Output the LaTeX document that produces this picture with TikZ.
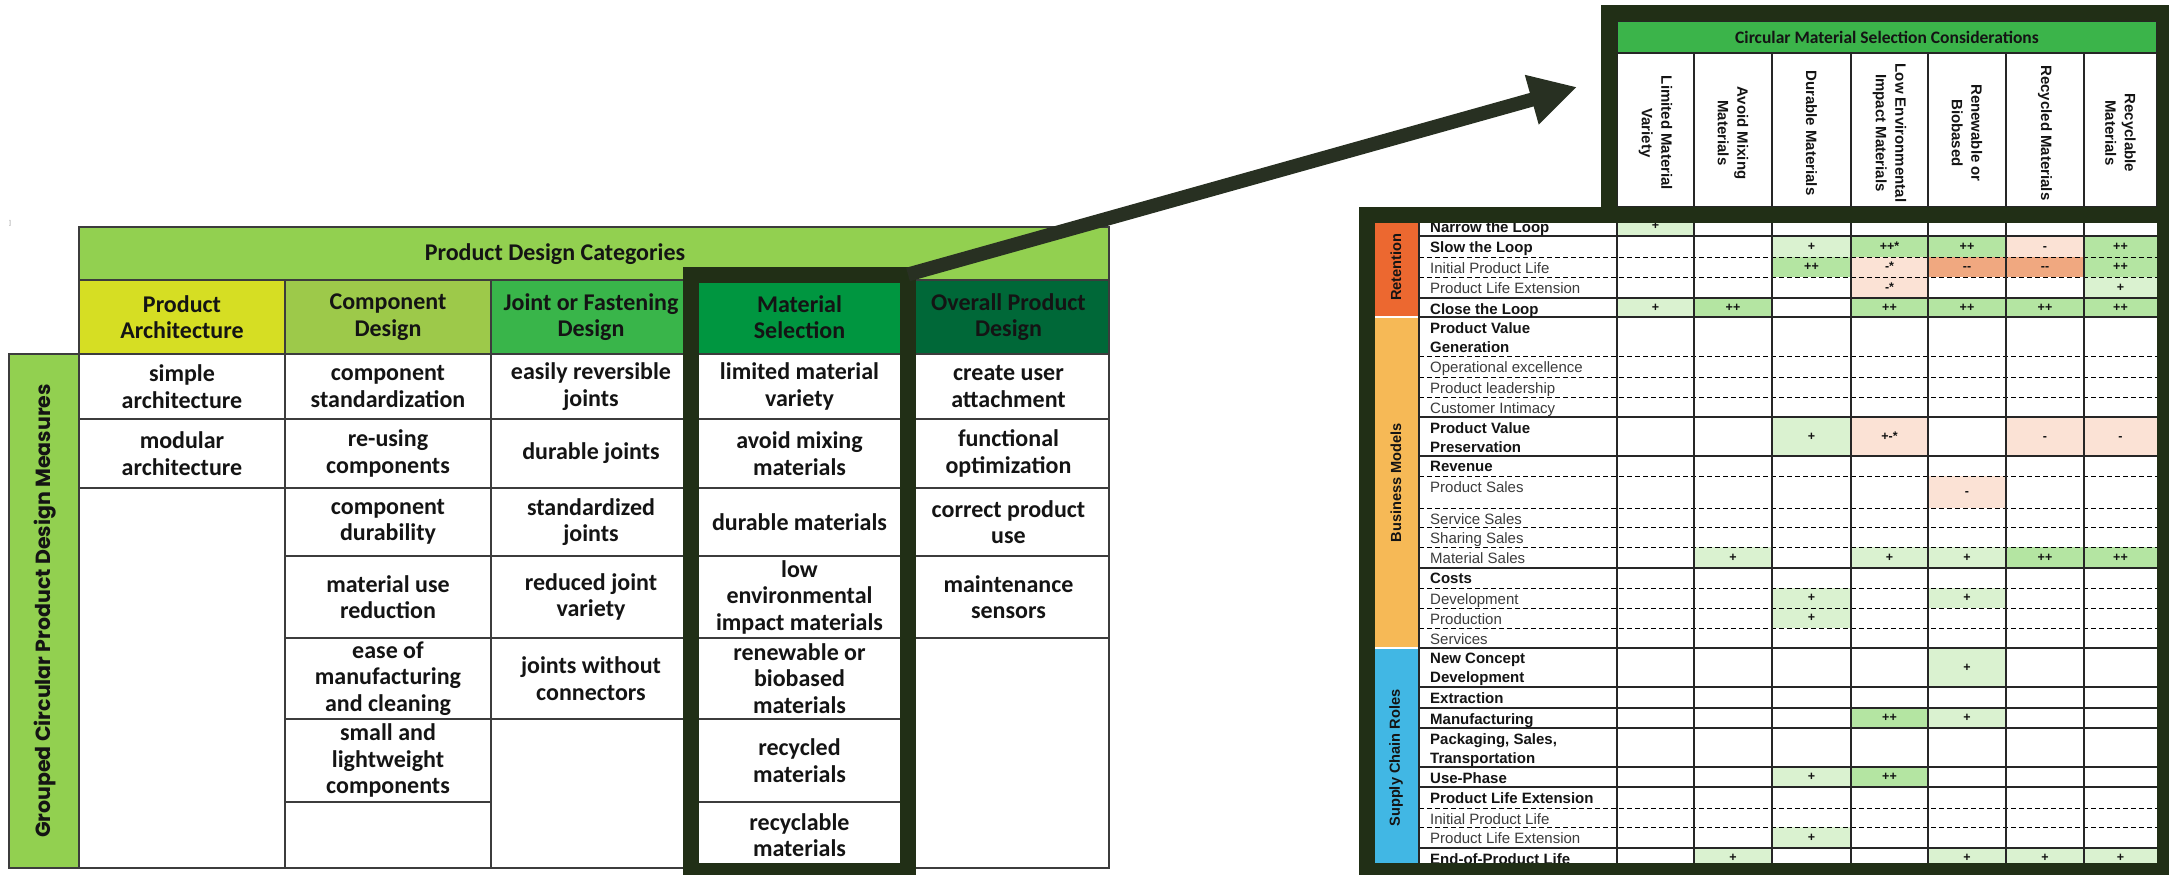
\documentclass[tikz,border=0pt]{standalone}
\usepackage{fontspec}
\setmainfont{Carlito}
\newfontfamily\arialf{Liberation Sans}
\newfontfamily\popf{Poppins}
\usetikzlibrary{arrows.meta}
\definecolor{frm}{RGB}{33,47,22}
\definecolor{arrc}{RGB}{40,48,34}
\definecolor{hdrG}{RGB}{146,208,80}
\definecolor{paY}{RGB}{214,222,35}
\definecolor{cdG}{RGB}{157,201,74}
\definecolor{jfG}{RGB}{57,181,74}
\definecolor{msG}{RGB}{0,150,64}
\definecolor{opG}{RGB}{0,104,56}
\definecolor{cmsG}{RGB}{59,180,74}
\definecolor{retO}{RGB}{236,104,48}
\definecolor{bmO}{RGB}{246,185,86}
\definecolor{scB}{RGB}{65,183,228}
\definecolor{lg}{RGB}{218,242,208}
\definecolor{mg}{RGB}{180,229,162}
\definecolor{ls}{RGB}{251,226,213}
\definecolor{so}{RGB}{240,168,128}
\definecolor{gridc}{RGB}{60,60,60}
\definecolor{txtc}{RGB}{20,20,20}
\definecolor{labgray}{RGB}{60,60,60}
\newcommand\cellv[7]{\node[valc,fill=#6,minimum width={#3-#2},minimum height={#5-#4}] (#1) at ({(#2+#3)/2},{(#4+#5)/2}) {#7};}
\begin{document}
\begin{tikzpicture}[x=1pt,y=-1pt,
  lgrid/.style={draw=gridc,line width=1.4pt},
  lt/.style={font=\fontsize{24}{26.5}\selectfont\bfseries,align=center,inner sep=0pt,text=txtc},
  colh/.style={font=\arialf\bfseries\fontsize{15}{19.5}\selectfont,align=center,rotate=-90,inner sep=0pt,text=txtc},
  catl/.style={font=\arialf\bfseries\fontsize{14.6}{18}\selectfont,rotate=90,inner sep=0pt,text=txtc},
  rlb/.style={font=\arialf\bfseries\fontsize{15}{19}\selectfont,anchor=north west,align=left,inner sep=0pt,text=txtc},
  rlr/.style={font=\arialf\fontsize{15}{19}\selectfont,anchor=north west,align=left,inner sep=0pt,text=labgray},
  valc/.style={font=\arialf\bfseries\fontsize{12.5}{14}\selectfont,inner sep=0pt,outer sep=0pt,text height=9pt,text depth=2pt,text=txtc},
  rsolid/.style={draw=black!85,line width=1.3pt},
  rdash/.style={draw=black,line width=1pt,dash pattern=on 5pt off 3pt},
  frame/.style={draw=frm,line width=16pt,inner sep=0pt,outer sep=0pt},
  bigarrow/.style={draw=arrc,line width=14pt,-{Triangle[length=47pt,width=48pt]}}
]
\useasboundingbox (0,0) rectangle (2169,875);
\node[font=\fontsize{7}{8}\selectfont,text=black!45,inner sep=0pt] (mark) at (10,223) {]};

% ---------------- left table ----------------
\fill[hdrG] (79,227) rectangle (1109,280);
\fill[paY] (79,280) rectangle (285,354);
\fill[cdG] (285,280) rectangle (491,354);
\fill[jfG] (491,280) rectangle (691,354);
\fill[msG] (691,280) rectangle (908,354);
\fill[opG] (908,280) rectangle (1109,354);
\fill[hdrG] (9,354) rectangle (79,868);
\draw[lgrid] (79,227) rectangle (1109,868);
\draw[lgrid] (9,354) rectangle (79,868);
\draw[lgrid] (79,280) -- (1109,280);
\draw[lgrid] (79,354) -- (1109,354);
\foreach \x in {285,491,691,908} \draw[lgrid] (\x,280) -- (\x,868);
\foreach \y in {419,488} \draw[lgrid] (79,\y) -- (285,\y);
\foreach \y in {419,488,556,638,719,802} \draw[lgrid] (285,\y) -- (491,\y);
\foreach \y in {419,488,556,638,719} \draw[lgrid] (491,\y) -- (691,\y);
\foreach \y in {419,488,556,638,719,802} \draw[lgrid] (691,\y) -- (908,\y);
\foreach \y in {419,488,556,638} \draw[lgrid] (908,\y) -- (1109,\y);

\node[lt] (pdc) at (555,254) {Product Design Categories};
\node[lt] (hpa) at (182,317) {Product\\Architecture};
\node[lt] (hcd) at (388,317) {Component\\Design};
\node[lt] (hjf) at (591,317) {Joint or Fastening\\Design};
\node[lt] (hms) at (799.5,317) {Material\\Selection};
\node[lt] (hop) at (1008.5,317) {Overall Product\\Design};

\node[font=\popf\bfseries\fontsize{20.5}{24}\selectfont,rotate=90,inner sep=0pt,text=txtc] (gcl) at (45,611) {Grouped Circular Product Design Measures};

\node[lt] (a1) at (182,386.5) {simple\\architecture};
\node[lt] (a2) at (182,453.5) {modular\\architecture};

\node[lt] (b1) at (388,386.5) {component\\standardization};
\node[lt] (b2) at (388,453.5) {re-using\\components};
\node[lt] (b3) at (388,522) {component\\durability};
\node[lt] (b4) at (388,597) {material use\\reduction};
\node[lt] (b5) at (388,678.5) {ease of\\manufacturing\\and cleaning};
\node[lt] (b6) at (388,760.5) {small and\\lightweight\\components};

\node[lt] (c1) at (591,386.5) {easily reversible\\joints};
\node[lt] (c2) at (591,453.5) {durable joints};
\node[lt] (c3) at (591,522) {standardized\\joints};
\node[lt] (c4) at (591,597) {reduced joint\\variety};
\node[lt] (c5) at (591,678.5) {joints without\\connectors};

\node[lt] (d1) at (799.5,386.5) {limited material\\variety};
\node[lt] (d2) at (799.5,453.5) {avoid mixing\\materials};
\node[lt] (d3) at (799.5,522) {durable materials};
\node[lt] (d4) at (799.5,597) {low\\environmental\\impact materials};
\node[lt] (d5) at (799.5,678.5) {renewable or\\biobased\\materials};
\node[lt] (d6) at (799.5,760.5) {recycled\\materials};
\node[lt] (d7) at (799.5,835) {recyclable\\materials};

\node[lt] (e1) at (1008.5,386.5) {create user\\attachment};
\node[lt] (e2) at (1008.5,453.5) {functional\\optimization};
\node[lt] (e3) at (1008.5,522) {correct product\\use};
\node[lt] (e4) at (1008.5,597) {maintenance\\sensors};

\node[frame,minimum width=217pt,minimum height=596.5pt] (matframe) at (799.5,572.75) {};

% ---------------- right table ----------------
\fill[white] (1375,216) rectangle (2157,868);
\fill[cmsG] (1617,21) rectangle (2157,53);
\fill[white] (1617,53) rectangle (2157,207);
\fill[retO] (1375,214) rectangle (1419,316.3);
\fill[bmO] (1375,317.7) rectangle (1419,647.3);
\fill[scB] (1375,648.7) rectangle (1419,868);

\node[font=\bfseries\fontsize{17.5}{20}\selectfont,inner sep=0pt,text=txtc] (cms) at (1887,37) {Circular Material Selection Considerations};
\node[colh] (h1) at (1655.5,133) {Limited Material\\Variety};
\node[colh] (h2) at (1733,133) {Avoid Mixing\\Materials};
\node[colh] (h3) at (1811.5,133) {Durable Materials};
\node[colh] (h4) at (1889.5,133) {Low Environmental\\Impact Materials};
\node[colh] (h5) at (1967,133) {Renewable or\\Biobased};
\node[colh] (h6) at (2045,133) {Recycled Materials};
\node[colh] (h7) at (2120.5,133) {Recyclable\\Materials};
\draw[rsolid] (1617,21) rectangle (2157,207);
\draw[rsolid] (1617,53) -- (2157,53);
\foreach \x in {1694,1772,1851,1928,2006,2084} \draw[rsolid] (\x,53) -- (\x,207);

\node[catl] (cret) at (1396,267) {Retention};
\node[catl] (cbm) at (1396,482.5) {Business Models};
\node[catl] (csc) at (1396,758) {Supply Chain Roles};

% value cells
\cellv{v01}{1617}{1694}{216}{236}{lg}{+}
\cellv{v02}{1772}{1851}{236}{257}{lg}{+}
\cellv{v03}{1851}{1928}{236}{257}{mg}{++*}
\cellv{v04}{1928}{2006}{236}{257}{mg}{++}
\cellv{v05}{2006}{2084}{236}{257}{ls}{-}
\cellv{v06}{2084}{2157}{236}{257}{mg}{++}
\cellv{v07}{1772}{1851}{257}{277}{mg}{++}
\cellv{v08}{1851}{1928}{257}{277}{ls}{-*}
\cellv{v09}{1928}{2006}{257}{277}{so}{-{}-}
\cellv{v10}{2006}{2084}{257}{277}{so}{-{}-}
\cellv{v11}{2084}{2157}{257}{277}{mg}{++}
\cellv{v12}{1851}{1928}{277}{298}{ls}{-*}
\cellv{v13}{2084}{2157}{277}{298}{lg}{+}
\cellv{v14}{1617}{1694}{298}{317}{lg}{+}
\cellv{v15}{1694}{1772}{298}{317}{mg}{++}
\cellv{v16}{1851}{1928}{298}{317}{mg}{++}
\cellv{v17}{1928}{2006}{298}{317}{mg}{++}
\cellv{v18}{2006}{2084}{298}{317}{mg}{++}
\cellv{v19}{2084}{2157}{298}{317}{mg}{++}
\cellv{v20}{1772}{1851}{417}{456}{lg}{+}
\cellv{v21}{1851}{1928}{417}{456}{ls}{+-*}
\cellv{v22}{2006}{2084}{417}{456}{ls}{-}
\cellv{v23}{2084}{2157}{417}{456}{ls}{-}
\cellv{v24}{1928}{2006}{476}{508}{ls}{-}
\cellv{v25}{1694}{1772}{547}{568}{lg}{+}
\cellv{v26}{1851}{1928}{547}{568}{lg}{+}
\cellv{v27}{1928}{2006}{547}{568}{lg}{+}
\cellv{v28}{2006}{2084}{547}{568}{mg}{++}
\cellv{v29}{2084}{2157}{547}{568}{mg}{++}
\cellv{v30}{1772}{1851}{588}{608}{lg}{+}
\cellv{v31}{1928}{2006}{588}{608}{lg}{+}
\cellv{v32}{1772}{1851}{608}{628}{lg}{+}
\cellv{v33}{1928}{2006}{648}{687}{lg}{+}
\cellv{v34}{1851}{1928}{708}{728}{mg}{++}
\cellv{v35}{1928}{2006}{708}{728}{lg}{+}
\cellv{v36}{1772}{1851}{767}{787}{lg}{+}
\cellv{v37}{1851}{1928}{767}{787}{mg}{++}
\cellv{v38}{1772}{1851}{827}{848}{lg}{+}
\cellv{v39}{1694}{1772}{848}{868}{lg}{+}
\cellv{v40}{1928}{2006}{848}{868}{lg}{+}
\cellv{v41}{2006}{2084}{848}{868}{lg}{+}
\cellv{v42}{2084}{2157}{848}{868}{lg}{+}

% grid lines
\foreach \y in {236,298,317,417,456,568,648,687,708,728,767,787,848} \draw[rsolid] (1419,\y) -- (2157,\y);
\foreach \y in {257,277,356,377,397,476,508,527,547,588,608,628,808,827} \draw[rdash] (1419,\y) -- (2157,\y);
\foreach \x in {1419,1617,1694,1772,1851,1928,2006,2084} \draw[rsolid] (\x,216) -- (\x,868);

% row labels
\node[rlb] (r01) at (1430,221) {Narrow the Loop};
\node[rlb] (r02) at (1430,241) {Slow the Loop};
\node[rlr] (r03) at (1430,262) {Initial Product Life};
\node[rlr] (r04) at (1430,282) {Product Life Extension};
\node[rlb] (r05) at (1430,303) {Close the Loop};
\node[rlb] (r06) at (1430,322) {Product Value\\Generation};
\node[rlr] (r07) at (1430,361) {Operational excellence};
\node[rlr] (r08) at (1430,382) {Product leadership};
\node[rlr] (r09) at (1430,402) {Customer Intimacy};
\node[rlb] (r10) at (1430,422) {Product Value\\Preservation};
\node[rlb] (r11) at (1430,461) {Revenue};
\node[rlr] (r12) at (1430,481) {Product Sales};
\node[rlr] (r13) at (1430,513) {Service Sales};
\node[rlr] (r14) at (1430,532) {Sharing Sales};
\node[rlr] (r15) at (1430,552) {Material Sales};
\node[rlb] (r16) at (1430,573) {Costs};
\node[rlr] (r17) at (1430,593) {Development};
\node[rlr] (r18) at (1430,613) {Production};
\node[rlr] (r19) at (1430,633) {Services};
\node[rlb] (r20) at (1430,653) {New Concept\\Development};
\node[rlb] (r21) at (1430,692) {Extraction};
\node[rlb] (r22) at (1430,713) {Manufacturing};
\node[rlb] (r23) at (1430,733) {Packaging, Sales,\\Transportation};
\node[rlb] (r24) at (1430,772) {Use-Phase};
\node[rlb] (r25) at (1430,792) {Product Life Extension};
\node[rlr] (r26) at (1430,813) {Initial Product Life};
\node[rlr] (r27) at (1430,832) {Product Life Extension};
\node[rlb] (r28) at (1430,853) {End-of-Product Life};

% frames
\node[frame,minimum width=556pt,minimum height=202pt] (topframe) at (1887,114) {};
\node[frame,minimum width=798pt,minimum height=656pt] (lowframe) at (1766,543) {};

% arrow
\coordinate (arrtip) at (1577,87);
\draw[bigarrow] (matframe.north east) -- (arrtip);
\end{tikzpicture}
\end{document}
